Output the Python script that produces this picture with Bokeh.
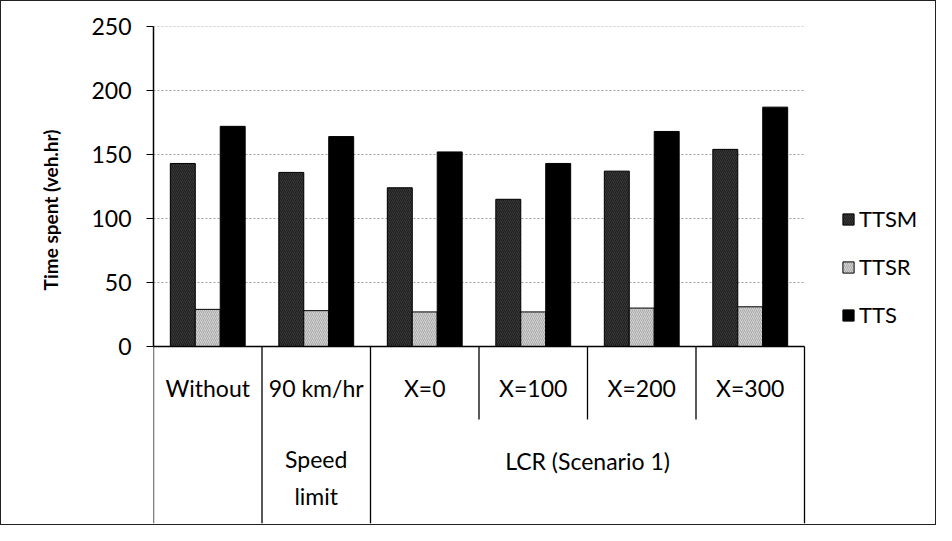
import numpy as np
from bokeh.plotting import figure
from bokeh.models import (Range1d, FixedTicker, Legend, LegendItem, Title)
from bokeh.core.properties import value
from bokeh.embed import file_html
from bokeh.resources import INLINE

# ---- data ----
categories = ["Without", "90 km/hr", "X=0", "X=100", "X=200", "X=300"]
group_labels = ["Speed\nlimit", "LCR (Scenario 1)"]
group_spans = [(1, 2), (2, 6)]          # category index range covered by each group label
ttsm = [143, 136, 124, 115, 137, 154]
ttsr = [29, 28, 27, 27, 30, 31]
tts = [172, 164, 152, 143, 168, 187]
y_ticks = [0, 50, 100, 150, 200, 250]
long_separators = [0, 1, 2, 6]
short_separators = [3, 4, 5]

FONT = "Lato"
PX = 1.28      # pixels per y data unit
PXX = 108.5    # pixels per category
ncat = len(categories)

p = figure(width=936, height=525, output_backend="svg", toolbar_location=None,
           x_range=Range1d(0, (938 - 160) / PXX), y_range=Range1d(-138.3, 250),
           x_axis_location=None, min_border_left=152, min_border_top=25,
           min_border_right=6, min_border_bottom=3)
p.outline_line_color = None
p.xgrid.visible = False
p.ygrid.visible = False
p.background_fill_color = "white"
p.border_fill_color = "white"
p.styles = {"border": "1.5px solid #222", "box-sizing": "border-box"}

# y axis
ax = p.yaxis[0]
ax.ticker = FixedTicker(ticks=y_ticks)
ax.bounds = (0, 250)
ax.axis_line_color = "black"
ax.axis_line_width = 1.5
ax.major_tick_out = 7
ax.major_tick_in = 0
ax.minor_tick_out = 0
ax.minor_tick_in = 0
ax.major_tick_line_color = "black"
ax.major_label_standoff = 15
ax.major_label_text_font = FONT
ax.major_label_text_font_size = "23px"
ax.major_label_text_color = "black"

# y axis title (placed next to the value part of the axis)
ytitle = Title(text="Time spent (veh.hr)", align="right", offset=103, standoff=54,
               text_font=FONT, text_font_size="19px", text_font_style="bold",
               text_color="black")
p.add_layout(ytitle, "left")

# dotted gridlines limited to the category area
gt = y_ticks[1:]
p.segment(x0=[0] * len(gt), x1=[ncat] * len(gt), y0=gt, y1=gt,
          line_color="#a0a0a0", line_dash="2 2", line_width=1)

# bars
idx = np.arange(ncat)
w = 0.23
r1 = p.vbar(x=idx + 0.5 - w, top=ttsm, width=w, bottom=0,
            fill_color="#383838", line_color="black", line_width=1,
            hatch_pattern="/", hatch_color="#151515", hatch_scale=4, hatch_weight=0.8)
r2 = p.vbar(x=idx + 0.5, top=ttsr, width=w, bottom=0,
            fill_color="#d4d4d4", line_color="black", line_width=1,
            hatch_pattern="/", hatch_color="#9a9a9a", hatch_scale=4, hatch_weight=0.8)
r3 = p.vbar(x=idx + 0.5 + w, top=tts, width=w, bottom=0,
            fill_color="black", line_color="black", line_width=1)

# baseline
p.segment(x0=[0], x1=[ncat], y0=[0], y1=[0], line_color="black", line_width=1.5)

# category separators
bottom = p.y_range.start
p.segment(x0=long_separators, x1=long_separators, y0=[0] * len(long_separators),
          y1=[bottom] * len(long_separators), line_color="black", line_width=1.3)
short_end = -(426 - 353) / PX
p.segment(x0=short_separators, x1=short_separators, y0=[0] * len(short_separators),
          y1=[short_end] * len(short_separators), line_color="black", line_width=1.3)

# level-1 labels
p.text(x=idx + 0.5, y=[-(395 - 353) / PX] * ncat, text=categories,
       text_align="center", text_baseline="middle", text_font=value(FONT),
       text_font_size="23px", text_color="black")

# level-2 labels
gx = [(a + b) / 2 for a, b in group_spans]
gy = [-(484 - 353) / PX, -(468 - 353) / PX]
p.text(x=gx, y=gy, text=group_labels, text_align="center", text_baseline="middle",
       text_font=value(FONT), text_font_size="23px", text_color="black",
       text_line_height=1.35)

# legend
legend = Legend(items=[LegendItem(label="TTSM", renderers=[r1]),
                       LegendItem(label="TTSR", renderers=[r2]),
                       LegendItem(label="TTS", renderers=[r3])],
                location=(688, 195), orientation="vertical")
legend.label_text_font = FONT
legend.label_text_font_size = "22px"
legend.label_text_color = "black"
legend.glyph_width = 14
legend.glyph_height = 14
legend.label_height = 25
legend.label_standoff = 4
legend.spacing = 21
legend.padding = 0
legend.margin = 0
legend.border_line_alpha = 0
legend.background_fill_alpha = 0
p.add_layout(legend)

open("out.html", "w").write(file_html(p, INLINE))
